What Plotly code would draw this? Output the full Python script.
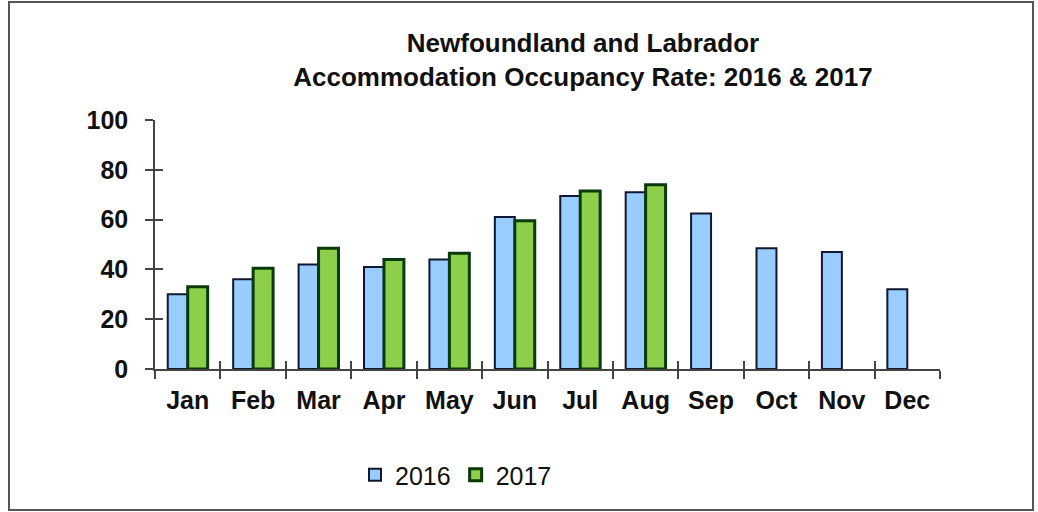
import plotly.graph_objects as go

months = ["Jan", "Feb", "Mar", "Apr", "May", "Jun", "Jul", "Aug", "Sep", "Oct", "Nov", "Dec"]
rate_2016 = [30, 36, 42, 41, 44, 61, 69.5, 71, 62.5, 48.5, 47, 32]
rate_2017 = [33, 40.5, 48.5, 44, 46.5, 59.5, 71.5, 74, None, None, None, None]
y_ticks = [0, 20, 40, 60, 80, 100]

FONT = "Liberation Sans, Arial, sans-serif"

fig = go.Figure()
fig.add_trace(go.Bar(
    x=months, y=rate_2016, name="2016",
    marker=dict(color="#99CCFF", line=dict(color="#101830", width=2)),
))
fig.add_trace(go.Bar(
    x=months, y=rate_2017, name="2017",
    marker=dict(color="#8CCF4A", line=dict(color="#0A3A0A", width=3)),
))
# helper trace to activate overlay axes for crossing tick marks
fig.add_trace(go.Scatter(x=[None], y=[None], xaxis="x2", yaxis="y2",
                         showlegend=False, hoverinfo="skip"))

fig.update_layout(
    width=1038, height=512,
    paper_bgcolor="white", plot_bgcolor="white",
    margin=dict(l=155, r=98, t=120, b=143),
    barmode="group", bargap=0.39, bargroupgap=0.0,
    font=dict(family=FONT, color="#111111"),
    title=dict(
        text="<b>Newfoundland and Labrador<br>Accommodation Occupancy Rate: 2016 & 2017</b>",
        x=583 / 1038, xanchor="center", xref="container",
        y=1 - 52 / 512, yanchor="middle", yref="container",
        font=dict(size=26, family=FONT, color="#111111"),
    ),
    xaxis=dict(
        type="category", categoryorder="array", categoryarray=months,
        range=[-0.5, 11.5],
        showline=True, linecolor="#444444", linewidth=1.5,
        ticks="outside", tickson="boundaries", ticklen=8, tickwidth=1.5, tickcolor="#444444",
        tickfont=dict(size=25, family=FONT, color="#111111", weight="bold"),
        ticklabelstandoff=8,
        showgrid=False, zeroline=False,
    ),
    yaxis=dict(
        range=[0, 100], tickvals=y_ticks,
        showline=True, linecolor="#444444", linewidth=1.5,
        ticks="outside", ticklen=8, tickwidth=1.5, tickcolor="#444444",
        tickfont=dict(size=25, family=FONT, color="#111111", weight="bold"),
        ticklabelstandoff=12,
        showgrid=False, zeroline=False,
    ),
    xaxis2=dict(
        overlaying="x", range=[-0.5, 11.5], tick0=-0.5, dtick=1,
        ticks="inside", ticklen=8, tickwidth=1.5, tickcolor="#444444",
        showticklabels=False, showgrid=False, zeroline=False, showline=False,
        anchor="y2",
    ),
    yaxis2=dict(
        overlaying="y", range=[0, 100], tickvals=y_ticks,
        ticks="inside", ticklen=8, tickwidth=1.5, tickcolor="#444444",
        showticklabels=False, showgrid=False, zeroline=False, showline=False,
        anchor="x2",
    ),
    legend=dict(
        orientation="h", xref="container", yref="container",
        x=456 / 1038, xanchor="center", y=1 - 475 / 512, yanchor="middle",
        font=dict(size=25, family=FONT, color="#111111"),
        itemwidth=30, tracegroupgap=0,
    ),
    shapes=[dict(type="rect", xref="paper", yref="paper",
                 x0=-146 / 785, x1=(1033 - 155) / 785,
                 y0=-(510 - 369) / 249, y1=(369 - 2) / 249,
                 line=dict(color="#555555", width=2), fillcolor="rgba(0,0,0,0)")],
    showlegend=True,
)

fig.write_html("out.html", config={"displayModeBar": False},
               post_script="document.body.style.margin='0px';")
